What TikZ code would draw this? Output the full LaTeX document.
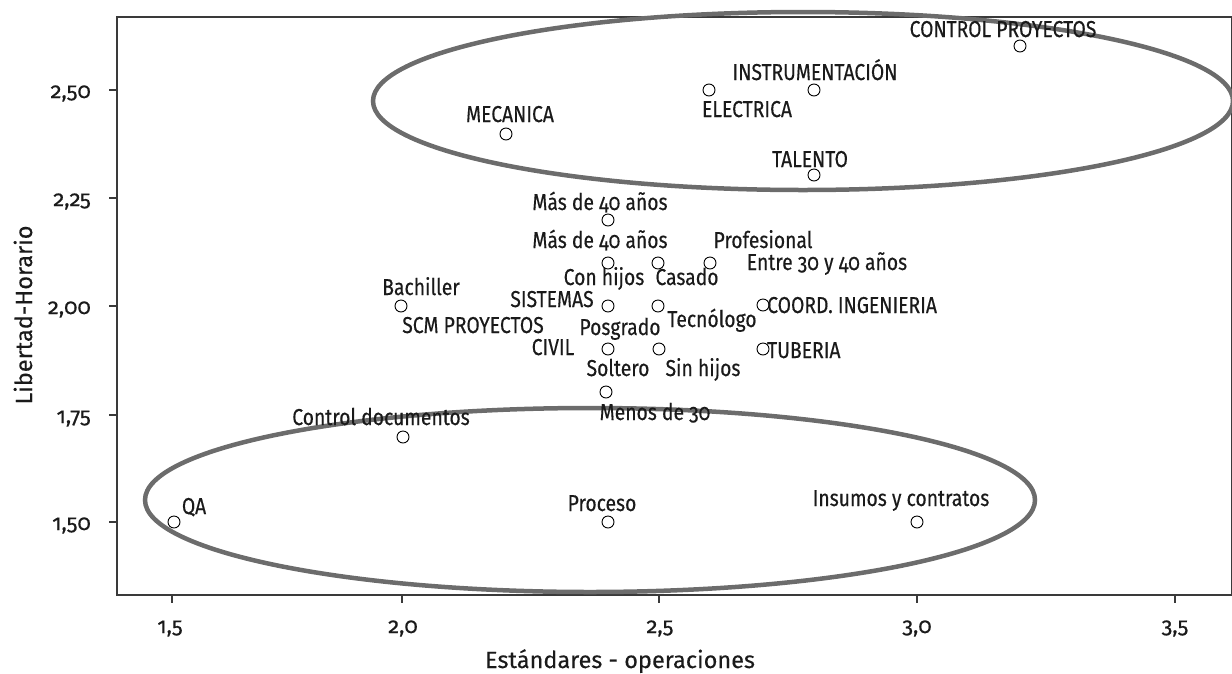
\documentclass[tikz,border=0pt]{standalone}
\usepackage{fontspec}
\setmainfont{Fira Sans}[Numbers=OldStyle, FakeStretch=0.84, FakeBold=0.35]
\newfontfamily\tickfont{Fira Sans}[Numbers=OldStyle, FakeBold=0.5]
\newfontfamily\titlefont{Fira Sans}[Numbers=OldStyle, FakeBold=0.2]
\definecolor{ringgray}{HTML}{6C6C6C}
\definecolor{axisgray}{HTML}{3A3A3A}
\definecolor{txt}{HTML}{1A1A1A}
\begin{document}
\begin{tikzpicture}[x=1pt,y=-1pt,
  pt/.style={circle, draw=black, line width=0.9pt, minimum size=12pt, inner sep=0pt, fill=white},
  lbl/.style={font=\fontsize{23}{26}\selectfont, inner sep=0pt, anchor=base, text=txt},
  lblw/.style={lbl, anchor=base west},
  ticklbl/.style={font=\tickfont\fontsize{22}{25}\selectfont, inner sep=0pt, text=txt},
  title/.style={font=\titlefont\fontsize{23.5}{26}\selectfont, inner sep=0pt, anchor=base, text=txt},
  ring/.style={draw=ringgray, line width=4.5pt},
  axis/.style={draw=axisgray, line width=1.2pt}]
\useasboundingbox (0,0) rectangle (1232,673);
\begin{scope}
\clip (0,0) rectangle (1232,673);
% frame
\draw[axis] (117,17) rectangle (1232,595);
% ticks
\foreach \yy in {90,198,306,415,522} \draw[axis] (109,\yy) -- (117,\yy);
\foreach \xx in {172,402,659,917,1175} \draw[axis] (\xx,595) -- (\xx,603);
% groups
\draw[ring] (803,101) ellipse [x radius=430pt, y radius=89pt];
\draw[ring] (590,500) ellipse [x radius=445pt, y radius=92pt];
\end{scope}
% tick labels
\node[ticklbl, anchor=base east] (y250) at (91,98) {2,50};
\node[ticklbl, anchor=base east] (y225) at (91,206) {2,25};
\node[ticklbl, anchor=base east] (y200) at (91,314) {2,00};
\node[ticklbl, anchor=base east] (y175) at (91,423) {1,75};
\node[ticklbl, anchor=base east] (y150) at (91,530) {1,50};
\node[ticklbl, anchor=base] (x15) at (170,633) {1,5};
\node[ticklbl, anchor=base] (x20) at (403,633) {2,0};
\node[ticklbl, anchor=base] (x25) at (660,633) {2,5};
\node[ticklbl, anchor=base] (x30) at (917,633) {3,0};
\node[ticklbl, anchor=base] (x35) at (1175,633) {3,5};
% axis titles
\node[title] (xt) at (620,668) {Estándares - operaciones};
\node[title, rotate=90] (yt) at (32,315) {Libertad-Horario};
% points
\node[pt] (cp) at (1020,46) {};
\node[pt] (ins) at (814,90) {};
\node[pt] (ele) at (709,90) {};
\node[pt] (mec) at (506,134) {};
\node[pt] (tal) at (814,175) {};
\node[pt] (m40a) at (608,220) {};
\node[pt] (m40b) at (608,263) {};
\node[pt] (cas) at (658,263) {};
\node[pt] (prof) at (710,263) {};
\node[pt] (bach) at (401,306) {};
\node[pt] (sis) at (608,306) {};
\node[pt] (tec) at (658,306) {};
\node[pt] (coord) at (763,305) {};
\node[pt] (civ) at (608,349) {};
\node[pt] (sin) at (659,349) {};
\node[pt] (tub) at (763,349) {};
\node[pt] (men) at (606,392) {};
\node[pt] (cdoc) at (403,437) {};
\node[pt] (qa) at (174,522) {};
\node[pt] (proc) at (608,522) {};
\node[pt] (insu) at (917,522) {};
% labels
\node[lbl] (lcp) at (1003,37) {CONTROL PROYECTOS};
\node[lbl] (lins) at (815,80) {INSTRUMENTACIÓN};
\node[lbl] (lele) at (747,117) {ELECTRICA};
\node[lbl] (lmec) at (510,122) {MECANICA};
\node[lbl] (ltal) at (810,167) {TALENTO};
\node[lbl] (lm40a) at (600,210) {Más de 40 años};
\node[lbl] (lm40b) at (600,248) {Más de 40 años};
\node[lbl] (lprof) at (763,248) {Profesional};
\node[lbl] (lentre) at (827,270) {Entre 30 y 40 años};
\node[lbl] (lcon) at (604,285) {Con hijos};
\node[lbl] (lcas) at (687,285) {Casado};
\node[lbl] (lbach) at (421,295) {Bachiller};
\node[lbl] (lsis) at (552,307) {SISTEMAS};
\node[lblw] (lcoord) at (767,313) {COORD. INGENIERIA};
\node[lbl] (ltec) at (712,327) {Tecnólogo};
\node[lbl] (lscm) at (473,333) {SCM PROYECTOS};
\node[lbl] (lpos) at (620,335) {Posgrado};
\node[lbl] (lciv) at (553,355) {CIVIL};
\node[lblw] (ltub) at (767,358) {TUBERIA};
\node[lbl] (lsol) at (618,376) {Soltero};
\node[lbl] (lsin) at (703,376) {Sin hijos};
\node[lbl] (lmen) at (655,420) {Menos de 30};
\node[lbl] (lcdoc) at (381,425) {Control documentos};
\node[lbl] (lqa) at (194,514) {QA};
\node[lbl] (lproc) at (602,511) {Proceso};
\node[lbl] (linsu) at (901,506) {Insumos y contratos};
\end{tikzpicture}
\end{document}
